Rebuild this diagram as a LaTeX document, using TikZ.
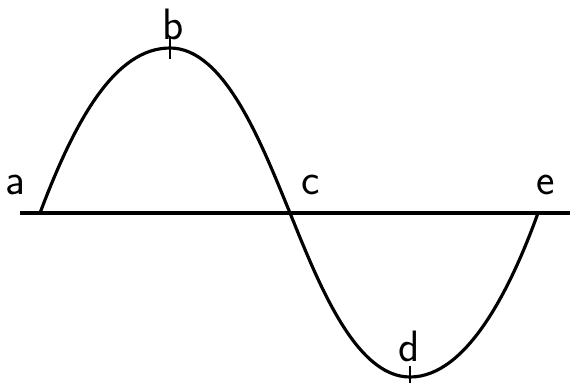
\documentclass[tikz,border=0pt]{standalone}
\begin{document}
\begin{tikzpicture}[x=0.02cm,y=-0.02cm,line width=1.8pt,
			lbl/.style={font=\sffamily\fontsize{25}{30}\selectfont}]
			\useasboundingbox (0,0) rectangle (570,382);
			\coordinate (A) at (40,213);
			\coordinate (B) at (170,48);
			\coordinate (C) at (290,213);
			\coordinate (D) at (410,377);
			\coordinate (E) at (538,213);
			\coordinate (L) at (20,213);
			\coordinate (R) at (570,213);
			\draw (L) -- (R);
			\draw (A) .. controls (75,120) and (115,48) .. (B)
			          .. controls (225,48) and (262,145) .. (C)
			          .. controls (318,282) and (355,377) .. (D)
			          .. controls (468,377) and (512,285) .. (E);
			\draw [line width=1pt] ([yshift=-6]B) -- ([yshift=7]B);
			\draw [line width=1pt] ([yshift=-7]D) -- ([yshift=6]D);
			\node [lbl] at (15,185) {a};
			\node [lbl] at (173,24) {b};
			\node [lbl] at (311,185) {c};
			\node [lbl] at (409,346) {d};
			\node [lbl] at (546,185) {e};
		\end{tikzpicture}
\end{document}
